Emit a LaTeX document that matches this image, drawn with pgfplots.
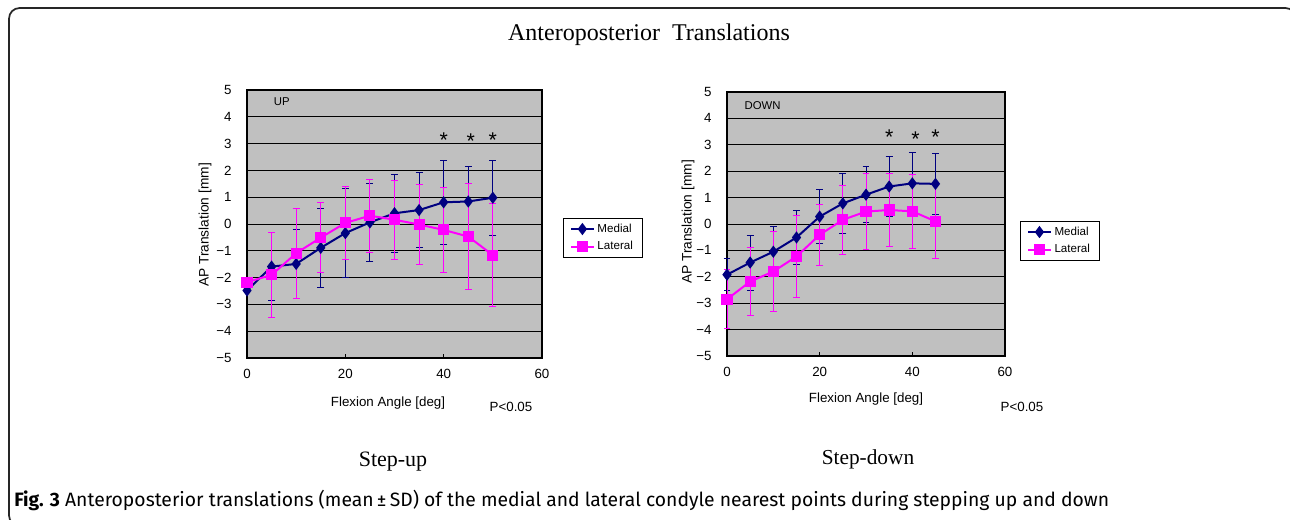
\documentclass[border=0pt]{standalone}
\usepackage{fontspec}
\setmainfont{Liberation Serif}
\newfontfamily\arialf{Liberation Sans}
\newfontfamily\capf{Fira Sans}
\usepackage{pgfplots}
\pgfplotsset{compat=1.18}
\usepackage{pgfplotstable}

\definecolor{medial}{RGB}{0,0,128}
\definecolor{lateral}{RGB}{255,0,255}
\definecolor{plotbg}{RGB}{192,192,192}
\newcommand{\af}[1]{\arialf\fontsize{#1}{#1}\selectfont}

% mean and SD, step-up
\pgfplotstableread{
x  med   medsd  lat   latsd
0  -2.48 0.00  -2.17  0.00
5  -1.59 1.27  -1.90  1.60
10 -1.49 1.30  -1.09  1.68
15 -0.89 1.48  -0.51  1.30
20 -0.34 1.65   0.04  1.37
25  0.06 1.47   0.31  1.36
30  0.40 1.45   0.16  1.48
35  0.52 1.40  -0.02  1.50
40  0.81 1.57  -0.22  1.58
45  0.84 1.30  -0.47  1.99
50  0.98 1.40  -1.16  1.92
}\upData

% mean and SD, step-down
\pgfplotstableread{
x  med   medsd  lat   latsd
0  -1.92 0.60  -2.85  1.12
5  -1.46 1.04  -2.18  1.30
10 -1.05 0.95  -1.80  1.52
15 -0.51 1.03  -1.23  1.57
20  0.28 1.03  -0.41  1.15
25  0.78 1.15   0.16  1.30
30  1.11 1.06   0.47  1.45
35  1.42 1.12   0.53  1.38
40  1.54 1.18   0.48  1.40
45  1.52 1.15   0.10  1.39
}\downData

\tikzset{astk/.style={font=\af{16}, anchor=base}}

\pgfplotsset{
  apstyle/.style={
    scale only axis, anchor=south west,
    xmin=0, xmax=60, ymin=-5, ymax=5,
    xtick={0,20,40,60}, ytick={-5,-4,...,5},
    yticklabels={−5,−4,−3,−2,−1,0,1,2,3,4,5},
    /pgf/number format/assume math mode=true,
    xtick pos=bottom, ytick pos=left, tick align=inside,
    major tick length=3pt,
    axis background/.style={fill=plotbg},
    ymajorgrids, grid style={black, line width=0.7pt},
    axis line style={black, line width=0.9pt},
    tick style={black, line width=0.6pt},
    ticklabel style={font=\af{10}},
    xticklabel style={yshift=-5pt},
    yticklabel style={xshift=-8pt},
    clip=false,
    legend cell align=left,
    legend style={anchor=north west, draw=black, line width=0.6pt, fill=white,
      font=\af{8.7}, inner xsep=5pt, inner ysep=2pt, row sep=1.5pt},
  },
  medplot/.style={color=medial, line width=1.5pt, mark=diamond*, mark size=3.4pt,
    mark options={solid, fill=medial},
    error bars/.cd, y dir=both, y explicit,
    error bar style={medial, line width=0.7pt},
    error mark options={rotate=90, medial, mark size=2.6pt, line width=0.7pt}},
  latplot/.style={color=lateral, line width=1.5pt, mark=square*, mark size=3.4pt,
    mark options={solid, fill=lateral},
    error bars/.cd, y dir=both, y explicit,
    error bar style={lateral, line width=0.7pt},
    error mark options={rotate=90, lateral, mark size=2.6pt, line width=0.7pt}},
}

\begin{document}
\begin{tikzpicture}[x=0.75pt,y=0.75pt]
\useasboundingbox (0,0) rectangle (1290,519);
\draw[line width=1.3pt, color=black!85, rounded corners=8pt]
  (60,-7) -- (9,-7) -- (9,511) -- (1296,511) -- (1296,400);

% step-up
\begin{axis}[apstyle, at={(185.25pt,120.75pt)}, width=221.25pt, height=201pt,
  legend style={at={(1.071,0.522)}}]
\addplot[medplot] table[x=x, y=med, y error=medsd] {\upData};
\addplot[latplot] table[x=x, y=lat, y error=latsd] {\upData};
\legend{Medial, Lateral}
\node[font=\af{8.5}, anchor=west] at (axis cs:4.5,4.55) {UP};
\node[astk] at (axis cs:40,2.85) {*};
\node[astk] at (axis cs:45.5,2.8) {*};
\node[astk] at (axis cs:50,2.85) {*};
\end{axis}

% step-down
\begin{axis}[apstyle, at={(545.25pt,122.25pt)}, width=208.5pt, height=198pt,
  legend style={at={(1.054,0.511)}}]
\addplot[medplot] table[x=x, y=med, y error=medsd] {\downData};
\addplot[latplot] table[x=x, y=lat, y error=latsd] {\downData};
\legend{Medial, Lateral}
\node[font=\af{8.5}, anchor=west] at (axis cs:2.8,4.5) {DOWN};
\node[astk] at (axis cs:35,3.0) {*};
\node[astk] at (axis cs:40.7,2.95) {*};
\node[astk] at (axis cs:45,3.0) {*};
\end{axis}

\node[font=\fontsize{18}{20}\selectfont] at (649,484) {Anteroposterior\ \ Translations};
\node[font=\af{10}] at (388,116) {Flexion Angle [deg]};
\node[font=\af{10}] at (866,120) {Flexion Angle [deg]};
\node[font=\af{10}] at (511,112) {P<0.05};
\node[font=\af{10}] at (1022,112) {P<0.05};
\node[font=\af{10.3}, rotate=90] at (205,294) {AP Translation [mm]};
\node[font=\af{10.3}, rotate=90] at (688,297) {AP Translation [mm]};
\node[font=\fontsize{16.5}{18}\selectfont] at (393,57) {Step-up};
\node[font=\fontsize{16}{18}\selectfont] at (868,60) {Step-down};
\node[font=\capf\fontsize{14.5}{16}\selectfont, anchor=base west, inner sep=0pt]
  at (14,13) {\textbf{Fig. 3} Anteroposterior translations (mean\,±\,SD) of the medial and lateral condyle nearest points during stepping up and down};
\end{tikzpicture}
\end{document}
